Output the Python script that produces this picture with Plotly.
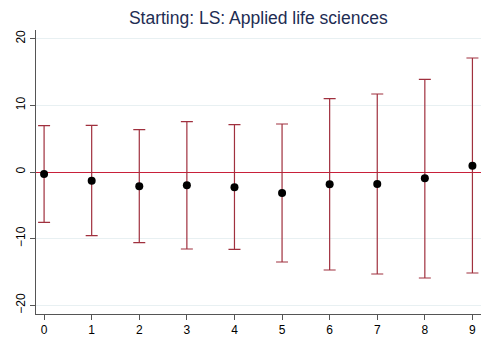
import plotly.graph_objects as go

categories = [0, 1, 2, 3, 4, 5, 6, 7, 8, 9]
estimates = [-0.3, -1.3, -2.15, -2.0, -2.3, -3.15, -1.85, -1.8, -0.95, 0.95]
upper = [6.95, 7.0, 6.35, 7.55, 7.1, 7.2, 11.0, 11.7, 13.9, 17.1]
lower = [-7.55, -9.55, -10.6, -11.55, -11.6, -13.5, -14.7, -15.3, -15.9, -15.15]
title_text = "Starting: LS: Applied life sciences"
y_ticks = [-20, -10, 0, 10, 20]

err_plus = [u - e for u, e in zip(upper, estimates)]
err_minus = [e - l for e, l in zip(estimates, lower)]

fig = go.Figure()
fig.add_trace(go.Scatter(
    x=categories, y=estimates, mode="markers",
    marker=dict(color="black", size=8),
    error_y=dict(type="data", symmetric=False, array=err_plus, arrayminus=err_minus,
                 color="#a0303e", thickness=1.2, width=6),
    showlegend=False,
))

font_family = "Liberation Sans, Arial, sans-serif"
fig.update_layout(
    width=481, height=338,
    margin=dict(l=36, r=0, t=30, b=24),
    paper_bgcolor="white", plot_bgcolor="white",
    title=dict(text=title_text, x=0.537, xanchor="center", y=0.948, yanchor="middle",
               font=dict(family=font_family, size=17.5, color="#1e2d53")),
    font=dict(family=font_family, size=12, color="black"),
    xaxis=dict(range=[-0.17, 9.18], tickmode="array", tickvals=categories,
               showgrid=False, zeroline=False, showline=True, linecolor="#555555",
               linewidth=1, ticks="outside", ticklen=5, tickcolor="#555555",
               automargin=False),
    yaxis=dict(range=[-21.3, 21.3], tickmode="array", tickvals=y_ticks,
               tickangle=-90, showgrid=True, gridcolor="#e8f0f2", gridwidth=1,
               zeroline=True, zerolinecolor="#c8203a", zerolinewidth=1.2,
               showline=True, linecolor="#555555", linewidth=1,
               ticks="outside", ticklen=5, tickcolor="#555555",
               automargin=False),
)

fig.write_html("out.html", config={"displayModeBar": False},
               post_script="document.body.style.margin='0';document.body.style.overflow='hidden';")
